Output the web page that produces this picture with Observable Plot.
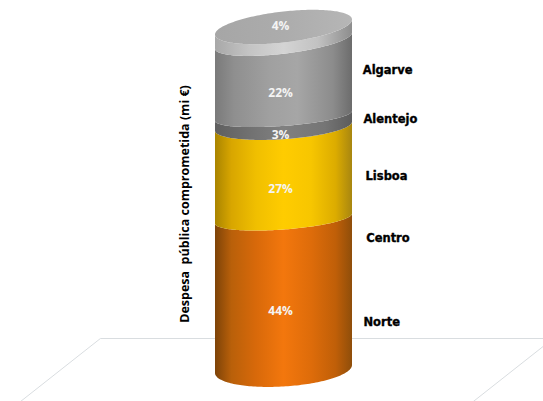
<!DOCTYPE html>
<html lang="pt">
<head>
<meta charset="utf-8">
<script src="https://cdn.jsdelivr.net/npm/d3@7"></script>
<script src="https://cdn.jsdelivr.net/npm/@observablehq/plot@0.6"></script>
<style>
  html, body { margin: 0; padding: 0; background: #fff; overflow: hidden; }
</style>
</head>
<body>
<div id="chart"></div>
<script>
// Regional shares of committed public expenditure, bottom of the stack first
const regions = ["Norte", "Centro", "Lisboa", "Alentejo", "Algarve"];
const shares = [44, 27, 3, 22, 4];
const shareLabels = ["44%", "27%", "3%", "22%", "4%"];

// Segment shading, one horizontal gradient per region, plus the lid
const ramps = [
  [[0, "#7d4308"], [0.12, "#b9600a"], [0.3, "#d8690a"], [0.5, "#f3770d"], [0.7, "#de6c0a"], [0.88, "#c05f08"], [1, "#8f4e0a"]],
  [[0, "#a98400"], [0.12, "#d8a600"], [0.3, "#f0bf00"], [0.5, "#ffcc00"], [0.7, "#f7c600"], [0.88, "#dcac00"], [1, "#a88610"]],
  [[0, "#5f5f5f"], [0.3, "#747474"], [0.5, "#808080"], [0.8, "#757575"], [1, "#5c5c5c"]],
  [[0, "#7a7a7a"], [0.14, "#8f8f8f"], [0.4, "#a0a0a0"], [0.6, "#a6a6a6"], [0.86, "#8c8c8c"], [1, "#6c6c6c"]],
  [[0, "#a8a8a8"], [0.25, "#c4c4c4"], [0.5, "#d4d4d4"], [0.75, "#c2c2c2"], [1, "#8d8d8d"]]
];
const lidRamp = [[0, "#a6a6a6"], [0.5, "#acacac"], [1, "#b6b6b6"]];

// Rim shape of each stack boundary: tilt and front sag, in pixels
const rimTilt = [4, 5, 4.5, 5, 8, 7.5];
const rimSag = [17.5, 11, 13, 10, 13, 15.5];

// Scale set-up: x runs across the cylinder (-1 to 1), y is the cumulative share
const pxPerShare = 3.42;
const yBase = 369;

const levels = d3.cumsum(shares);
const boundary = i => (i === 0 ? 0 : levels[i - 1]);

// Sample the rim more densely toward the cylinder's edges
const us = d3.range(0, 97).map(k => -Math.cos((k / 96) * Math.PI));
const rim = (i, u, side) =>
  boundary(i) + (rimTilt[i] * u - side * rimSag[i] * Math.sqrt(1 - u * u)) / pxPerShare;

const segments = regions.flatMap((region, i) =>
  us.map(u => ({region, u, y1: rim(i, u, 1), y2: rim(i + 1, u, 1)}))
);
const lid = us.map(u => ({u, y1: rim(5, u, 1), y2: rim(5, u, -1)}));

// Vertical nudges for the value labels, in share units
const labelShift = [-5.0, -4.9, -4.0, -4.3, 2.4];
const labelRows = shareLabels.map((text, i) => ({
  text,
  u: -0.05,
  y: boundary(i) + shares[i] / 2 + labelShift[i]
}));

// Region names sit beside the cylinder
const nameRows = [
  {name: regions[0], u: 1.16, y: 13.7},
  {name: regions[1], u: 1.20, y: 38.5},
  {name: regions[2], u: 1.19, y: 56.4},
  {name: regions[3], u: 1.16, y: 73.1},
  {name: regions[4], u: 1.15, y: 87.4}
];

// Floor of the 3D chart box
const floor = [
  {u: -3.95, v: -11},
  {u: -2.68, v: 9.06},
  {u: 3.93, v: 9.06},
  {u: 2.66, v: -11}
];

// Gradient definitions shared by the area marks
function gradients() {
  const defs = d3.create("svg:defs");
  const add = (id, ramp) => {
    const g = defs.append("linearGradient").attr("id", id)
      .attr("x1", "0%").attr("x2", "100%").attr("y1", "0%").attr("y2", "0%");
    ramp.forEach(([offset, color]) =>
      g.append("stop").attr("offset", offset).attr("stop-color", color));
  };
  ramps.forEach((ramp, i) => add(`ramp${i}`, ramp));
  add("lid", lidRamp);
  return defs.node();
}

const labelFont = "'Open Sans', 'Noto Sans', sans-serif";

const chart = Plot.plot({
  width: 543,
  height: 401,
  margin: 0,
  x: {axis: null, domain: [-1, 1], range: [215, 352]},
  y: {axis: null, domain: [0, 100], range: [yBase, yBase - 100 * pxPerShare]},
  marks: [
    gradients,
    Plot.line(floor, {x: "u", y: "v", stroke: "#d9dde0", strokeWidth: 1}),
    ...regions.map((region, i) =>
      Plot.areaY(segments.filter(d => d.region === region), {
        x: "u", y1: "y1", y2: "y2", fill: `url(#ramp${i})`
      })
    ),
    Plot.areaY(lid, {x: "u", y1: "y1", y2: "y2", fill: "url(#lid)"}),
    Plot.text(labelRows, {
      x: "u", y: "y", text: "text", fill: "#f4f4f4",
      fontFamily: labelFont, fontWeight: 700, fontSize: 12
    }),
    Plot.text(nameRows, {
      x: "u", y: "y", text: "name", textAnchor: "start", fill: "#000",
      stroke: "#000", strokeWidth: 0.35,
      fontFamily: "'DejaVu Sans', sans-serif", fontWeight: 700, fontSize: 11.5
    }),
    Plot.text(["Despesa  pública comprometida (mi €)"], {
      x: () => -1.44, y: () => 48.4, text: d => d, rotate: -90, fill: "#000",
      fontFamily: labelFont, fontWeight: 700, fontSize: 12.5
    })
  ]
});

document.getElementById("chart").append(chart);
</script>
</body>
</html>
